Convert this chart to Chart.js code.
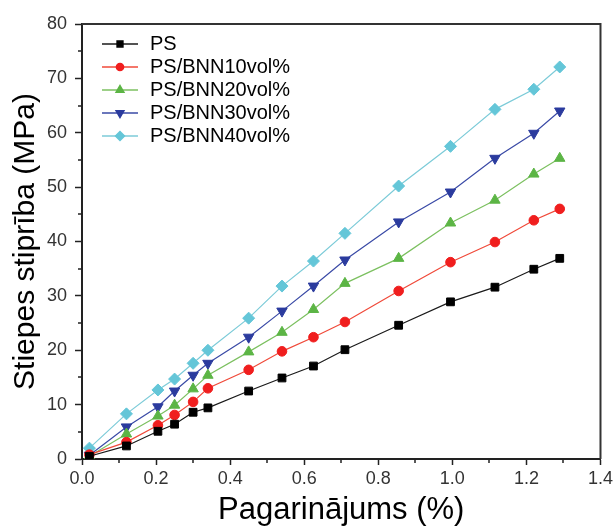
<!DOCTYPE html>
<html>
<head>
<meta charset="utf-8">
<title>Stiepes stiprība</title>
<script src="https://cdn.jsdelivr.net/npm/chart.js@4/dist/chart.umd.min.js"></script>
<style>
  html, body { margin: 0; padding: 0; background: #fff; }
</style>
</head>
<body>
<canvas id="tensileChart" width="616" height="529"></canvas>
<script>
// elongation (%) - shared x values for all samples
var strain = [0.02, 0.12, 0.205, 0.25, 0.30, 0.34, 0.45, 0.54, 0.625, 0.71, 0.855, 0.995, 1.115, 1.22, 1.29];

// tensile strength (MPa)
var ps      = [0.5, 2.4, 5.1, 6.4, 8.6, 9.4, 12.5, 14.9, 17.1, 20.1, 24.6, 28.9, 31.6, 34.9, 36.9];
var bnn10   = [0.8, 3.1, 6.2, 8.1, 10.5, 13.0, 16.4, 19.8, 22.4, 25.2, 30.9, 36.2, 39.9, 43.9, 46.0];
var bnn20   = [0.5, 4.6, 7.9, 9.9, 12.9, 15.4, 19.7, 23.3, 27.5, 32.3, 36.9, 43.4, 47.6, 52.4, 55.3];
var bnn30   = [0.7, 5.9, 9.6, 12.5, 15.4, 17.6, 22.4, 27.2, 31.8, 36.6, 43.6, 49.1, 55.3, 59.9, 64.0];
var bnn40   = [2.0, 8.3, 12.7, 14.7, 17.6, 20.0, 25.9, 31.8, 36.4, 41.5, 50.2, 57.5, 64.3, 68.0, 72.1];

var seriesNames = ['PS', 'PS/BNN10vol%', 'PS/BNN20vol%', 'PS/BNN30vol%', 'PS/BNN40vol%'];

var xTicks = [0, 0.2, 0.4, 0.6, 0.8, 1.0, 1.2, 1.4];
var yTicks = [0, 10, 20, 30, 40, 50, 60, 70, 80];
var xMinorTicks = [0.1, 0.3, 0.5, 0.7, 0.9, 1.1, 1.3];
var yMinorTicks = [5, 15, 25, 35, 45, 55, 65, 75];

var FONT = "'Liberation Sans', Arial, Helvetica, sans-serif";

// marker look for each series
var styles = [
    { color: '#000000', line: '#1a1a1a', point: 'rect',     radius: 5.5, rotation: 0 },
    { color: '#f01e1e', line: '#f04a3a', point: 'circle',   radius: 4.8, rotation: 0 },
    { color: '#5cb545', line: '#7cc060', point: 'triangle', radius: 6,   rotation: 0 },
    { color: '#2b3b9e', line: '#3a4aa6', point: 'triangle', radius: 6,   rotation: 180 },
    { color: '#64c6d8', line: '#7ccbd8', point: 'rectRot',  radius: 6,   rotation: 0 }
];

function toPoints(ys) {
    return strain.map(function (x, i) { return { x: x, y: ys[i] }; });
}

// small line+marker icon for legend entries
function legendIcon(st) {
    var c = document.createElement('canvas');
    c.width = 38;
    c.height = 12;
    var g = c.getContext('2d');
    g.strokeStyle = st.line;
    g.lineWidth = 1.5;
    g.beginPath();
    g.moveTo(1, 6);
    g.lineTo(37, 6);
    g.stroke();
    g.fillStyle = st.color;
    g.strokeStyle = st.color;
    Chart.helpers.drawPoint(g, {
        pointStyle: st.point,
        radius: st.radius * 0.75,
        rotation: st.rotation,
        borderWidth: 1
    }, 19, 6);
    return c;
}

var allSeries = [ps, bnn10, bnn20, bnn30, bnn40];
var datasets = allSeries.map(function (ys, i) {
    var st = styles[i];
    return {
        label: seriesNames[i],
        data: toPoints(ys),
        showLine: true,
        borderColor: st.line,
        borderWidth: 1.2,
        backgroundColor: st.color,
        pointBackgroundColor: st.color,
        pointBorderColor: st.color,
        pointBorderWidth: 1,
        pointStyle: st.point,
        pointRotation: st.rotation,
        pointRadius: st.radius,
        pointHoverRadius: st.radius,
        tension: 0
    };
});

// top/right frame lines and the minor ticks
var frameAndMinorTicks = {
    id: 'frameAndMinorTicks',
    afterDraw: function (chart) {
        var ctx = chart.ctx;
        var area = chart.chartArea;
        var xs = chart.scales.x;
        var ys = chart.scales.y;
        ctx.save();
        ctx.strokeStyle = '#222';
        ctx.lineWidth = 1.5;
        ctx.beginPath();
        xMinorTicks.forEach(function (v) {
            var px = Math.round(xs.getPixelForValue(v));
            ctx.moveTo(px, area.bottom);
            ctx.lineTo(px, area.bottom + 4);
        });
        yMinorTicks.forEach(function (v) {
            var py = Math.round(ys.getPixelForValue(v));
            ctx.moveTo(area.left, py);
            ctx.lineTo(area.left - 4, py);
        });
        ctx.stroke();
        ctx.strokeStyle = '#333';
        ctx.lineWidth = 2;
        ctx.beginPath();
        ctx.moveTo(area.left, area.top);
        ctx.lineTo(area.right, area.top);
        ctx.lineTo(area.right, area.bottom);
        ctx.stroke();
        ctx.restore();
    }
};

// move the legend into the upper-left corner of the plot
var legendPlacer = {
    id: 'legendPlacer',
    afterLayout: function (chart) {
        var lg = chart.legend;
        if (!lg) return;
        var h = lg.height;
        var w = lg.width;
        lg.left = 97;
        lg.top = 31;
        lg.right = lg.left + w;
        lg.bottom = lg.top + h;
    }
};

var ctx = document.getElementById('tensileChart').getContext('2d');
var chart = new Chart(ctx, {
    type: 'scatter',
    data: { datasets: datasets },
    plugins: [frameAndMinorTicks, legendPlacer],
    options: {
        responsive: false,
        animation: false,
        layout: { padding: { top: 24, right: 14, left: 0, bottom: 0 } },
        plugins: {
            tooltip: { enabled: false },
            legend: {
                position: 'chartArea',
                align: 'start',
                labels: {
                    usePointStyle: true,
                    pointStyleWidth: 40,
                    padding: 3,
                    color: '#111',
                    font: { family: FONT, size: 20 },
                    generateLabels: function (chart) {
                        return chart.data.datasets.map(function (ds, i) {
                            return {
                                text: ds.label,
                                pointStyle: legendIcon(styles[i]),
                                fillStyle: styles[i].color,
                                strokeStyle: styles[i].color,
                                lineWidth: 0,
                                hidden: false,
                                datasetIndex: i
                            };
                        });
                    }
                }
            }
        },
        scales: {
            x: {
                type: 'linear',
                min: 0,
                max: 1.4,
                afterFit: function (scale) { scale.height = 70; },
                afterBuildTicks: function (scale) {
                    scale.ticks = xTicks.map(function (v) { return { value: v }; });
                },
                border: { display: true, color: '#222', width: 2 },
                grid: { display: true, drawOnChartArea: false, drawTicks: true, tickLength: 6, tickColor: '#222', tickWidth: 1.5 },
                ticks: {
                    padding: 3,
                    color: '#333',
                    font: { family: FONT, size: 18 },
                    maxRotation: 0,
                    callback: function (v) { return Number(v).toFixed(1); }
                },
                title: {
                    display: true,
                    text: 'Pagarinājums (%)',
                    color: '#000',
                    font: { family: FONT, size: 31 },
                    padding: { top: 0, bottom: 0 }
                }
            },
            y: {
                type: 'linear',
                min: 0,
                max: 80,
                afterFit: function (scale) { scale.width = 82; },
                afterBuildTicks: function (scale) {
                    scale.ticks = yTicks.map(function (v) { return { value: v }; });
                },
                border: { display: true, color: '#222', width: 2 },
                grid: { display: true, drawOnChartArea: false, drawTicks: true, tickLength: 7, tickColor: '#222', tickWidth: 1.5 },
                ticks: {
                    padding: 8,
                    color: '#333',
                    font: { family: FONT, size: 18 }
                },
                title: {
                    display: true,
                    text: 'Stiepes stiprība (MPa)',
                    color: '#000',
                    font: { family: FONT, size: 30 },
                    padding: { top: 8, bottom: 0 }
                }
            }
        }
    }
});
</script>
</body>
</html>
